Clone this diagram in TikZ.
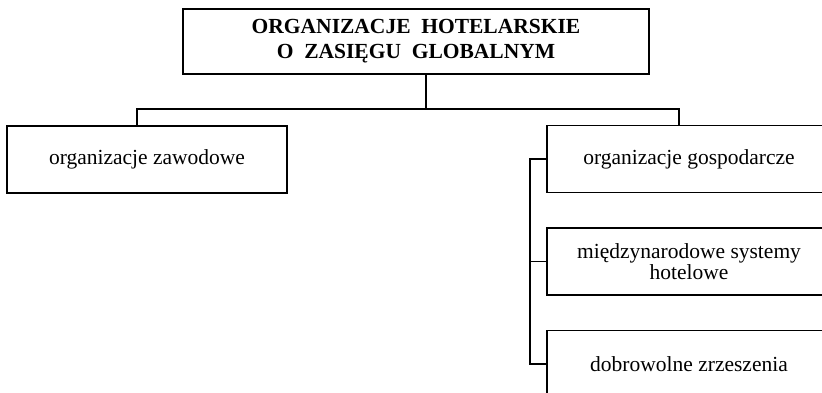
\documentclass[tikz,border=0pt]{standalone}
\usepackage{fontspec}
\setmainfont{Liberation Serif}
\usepackage{tikz}
\usetikzlibrary{positioning}
\usetikzlibrary{calc}

\begin{document}
\begin{tikzpicture}[x=1pt,y=-1pt,node distance=34pt,line width=1.5pt,
					  org node/.style={draw,rectangle,inner sep=0pt,minimum height=67pt,align=center,
					    font=\fontsize{21.5}{21}\selectfont},
					  head node/.style={draw,rectangle,inner sep=0pt,minimum width=466pt,minimum height=65pt,align=center,
					    font=\fontsize{21.5}{25}\selectfont\bfseries}]
					  \useasboundingbox (0,0) rectangle (822,393);
					  \clip (0,0) rectangle (822,393);

					  \node[head node] (glob) at (416,41.5) {ORGANIZACJE\ \ HOTELARSKIE\\O\ \ ZASIĘGU\ \ GLOBALNYM};
					  \node[org node,minimum width=280pt] (zaw) at (147,159.5) {organizacje zawodowe};
					  \node[org node,minimum width=284pt] (gosp) at (689,159) {organizacje gospodarcze};
					  \node[org node,minimum width=284pt] (sys) [below=of gosp] {międzynarodowe systemy\\hotelowe};
					  \node[org node,minimum width=284pt] (dobr) [below=of sys] {dobrowolne zrzeszenia};

					  \coordinate (split) at (426,109);
					  \coordinate (rail) at (530,0);

					  \draw (glob.south -| split) -- (split);
					  \draw (zaw.north -| 137,0) |- (split) -| (gosp.north -| 679,0);
					  \draw (gosp.west) -- (gosp.west -| rail) |- (dobr.west);
					  \draw (sys.west) -- (sys.west -| rail);
					\end{tikzpicture}
\end{document}
